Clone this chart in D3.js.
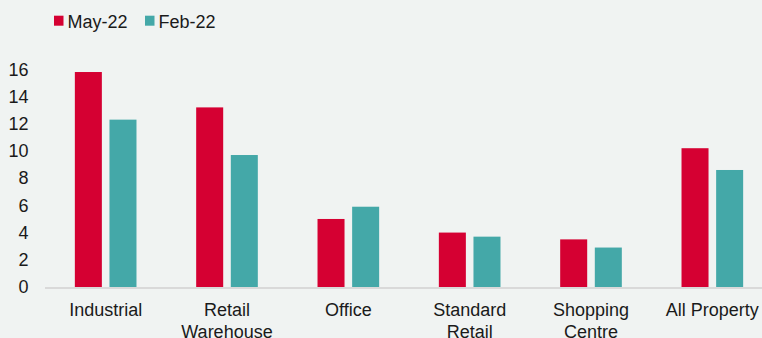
<!DOCTYPE html>
<html>
<head>
<meta charset="utf-8">
<script src="https://cdn.jsdelivr.net/npm/d3@7"></script>
<style>
  body { margin: 0; background: #f0f3f2; }
  svg { display: block; font-family: "Liberation Sans", Arial, sans-serif; }
</style>
</head>
<body>
<div id="canvas"></div>
<script>
// categories (multi-line labels) and the two series
const categories = [["Industrial"], ["Retail", "Warehouse"], ["Office"], ["Standard", "Retail"], ["Shopping", "Centre"], ["All Property"]];
const series = ["May-22", "Feb-22"];
const may22 = [15.8, 13.2, 5.0, 4.0, 3.5, 10.2];
const feb22 = [12.3, 9.7, 5.9, 3.7, 2.9, 8.6];
const yTicks = [0, 2, 4, 6, 8, 10, 12, 14, 16];

const colors = { "May-22": "#d50032", "Feb-22": "#44a8a8" };

const width = 762;
const height = 338;

const svg = d3.select("#canvas").append("svg")
    .attr("width", width)
    .attr("height", height);

svg.append("rect")
    .attr("width", width).attr("height", height)
    .style("fill", "#f0f3f2");

const names = categories.map(d => d.join(" "));
const data = names.map((n, i) => ({ name: n, lines: categories[i], values: { "May-22": may22[i], "Feb-22": feb22[i] } }));

const y = d3.scaleLinear()
    .domain([0, 16])
    .range([287, 69.3]);

const x0 = d3.scaleBand()
    .domain(names)
    .range([45, 773])
    .padding(0);

const bw = x0.bandwidth();
const x1 = d3.scaleBand()
    .domain(series)
    .range([bw * 0.246, bw * 0.754])
    .paddingInner(0.22)
    .paddingOuter(0);

// bars
const groups = svg.selectAll("g.group").data(data).enter()
    .append("g")
    .attr("class", "group")
    .attr("transform", d => `translate(${x0(d.name)},0)`);

groups.selectAll("rect")
    .data(d => series.map(s => ({ key: s, value: d.values[s] })))
    .enter()
    .append("rect")
    .attr("x", d => x1(d.key))
    .attr("y", d => y(d.value))
    .attr("width", x1.bandwidth())
    .attr("height", d => y(0) - y(d.value))
    .style("fill", d => colors[d.key]);

// x axis line
svg.append("line")
    .attr("x1", 45).attr("x2", width)
    .attr("y1", y(0) + 1).attr("y2", y(0) + 1)
    .style("stroke", "#d9d9d9")
    .style("stroke-width", 2);

// category labels
const labels = svg.selectAll("text.cat").data(data).enter()
    .append("text")
    .attr("class", "cat")
    .attr("text-anchor", "middle")
    .style("font-size", "18px")
    .style("fill", "#1a1a1a");

labels.selectAll("tspan")
    .data(d => d.lines.map(l => ({ l, cx: x0(d.name) + bw / 2 })))
    .enter()
    .append("tspan")
    .attr("x", d => d.cx)
    .attr("y", (d, i) => 316 + i * 21.6)
    .text(d => d.l);

// y tick labels
svg.selectAll("text.ytick").data(yTicks).enter()
    .append("text")
    .attr("class", "ytick")
    .attr("x", 28.5)
    .attr("y", d => y(d))
    .attr("dy", "0.35em")
    .attr("text-anchor", "end")
    .style("font-size", "18px")
    .style("fill", "#1a1a1a")
    .text(d => d);

// legend
const legendX = [54, 145];
const legend = svg.selectAll("g.legend").data(series).enter()
    .append("g")
    .attr("class", "legend")
    .attr("transform", (d, i) => `translate(${legendX[i]},0)`);

legend.append("rect")
    .attr("x", 0).attr("y", 15.7)
    .attr("width", 9.5).attr("height", 10)
    .style("fill", d => colors[d]);

legend.append("text")
    .attr("x", 13.5).attr("y", 28)
    .style("font-size", "18px")
    .style("fill", "#1a1a1a")
    .text(d => d);
</script>
</body>
</html>
